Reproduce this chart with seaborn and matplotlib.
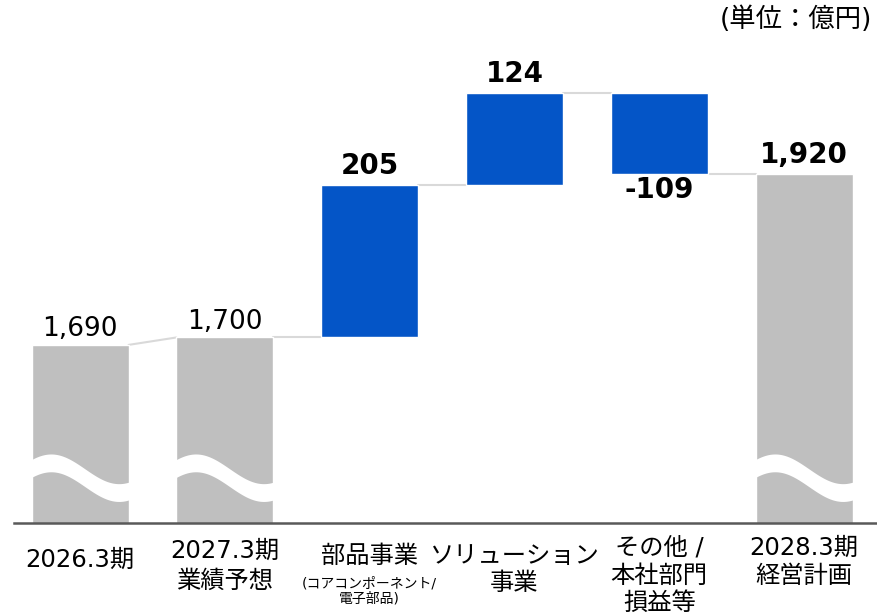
import numpy as np
import pandas as pd
import seaborn as sns
from matplotlib import pyplot as plt

# data (億円)
keys = ['fy2026', 'fy2027', 'parts', 'solution', 'other', 'fy2028']
values = [1690, 1700, 205, 124, -109, 1920]
kinds = ['total', 'total', 'delta', 'delta', 'delta', 'total']
value_labels = ['1,690', '1,700', '205', '124', '-109', '1,920']
cat_lines = [
    ['2026.3期'],
    ['2027.3期', '業績予想'],
    ['部品事業', '(コアコンポーネント/', '電子部品)'],
    ['ソリューション', '事業'],
    ['その他 /', '本社部門', '損益等'],
    ['2028.3期', '経営計画'],
]
unit_text = '(単位：億円)'

# styling / layout
GRAY = '#BFBFBF'
BLUE = '#0455C7'
W = 0.67
YMIN, YMAX = 1450, 2100
# label line offsets below the axis (points) and font sizes
line_offsets = [[26.5], [20, 41.5], [23.5, 43.5, 54.5], [23.5, 43.5], [17.5, 38, 57.5], [18, 38]]
line_sizes = [[17.5], [17.5, 17.5], [17.5, 10, 10], [17.5, 17.5], [17.5, 17.5, 17.5], [17.5, 17.5]]

sns.set_style('white')
plt.rcParams['font.family'] = ['DejaVu Sans', 'Noto Sans CJK JP']
plt.rcParams['text.color'] = 'black'

fig = plt.figure(figsize=(8.77, 6.16), dpi=100)
ax = fig.add_axes([0.016, 0.151, 0.984, 0.783])

# waterfall levels
bottoms, tops = [], []
level = 0
for v, k in zip(values, kinds):
    if k == 'total':
        bottoms.append(YMIN)
        level = v
        tops.append(v)
    else:
        bottoms.append(level)
        level = level + v
        tops.append(level)

df = pd.DataFrame({'key': keys, 'kind': kinds, 'bottom': bottoms, 'top': tops})
tot = df[df['kind'] == 'total']
sns.barplot(data=tot, x='key', y='top', order=keys, color=GRAY,
            width=W, saturation=1, ax=ax, zorder=2)
pos = np.arange(len(keys))
dl = (df['kind'] == 'delta').to_numpy()
ax.bar(pos[dl], (df['top'] - df['bottom'])[dl], bottom=df['bottom'][dl],
       width=W, color=BLUE, zorder=2)

# broken-axis wave on the total bars
u = np.linspace(0, 1, 200)
center = 1511 + 20 * np.cos(2 * np.pi * (u - 0.2) / 1.4)
for i in pos[~dl]:
    xs = i - W / 2 + u * W
    ax.fill_between(xs, center - 12, center + 12, color='white', lw=0, zorder=3)

# connectors
for i in range(len(keys) - 1):
    y0 = df['top'][i]
    y1 = df['bottom'][i + 1] if kinds[i + 1] == 'delta' else df['top'][i + 1]
    ax.plot([i + W / 2, i + 1 - W / 2], [y0, y1], color='#D9D9D9', lw=1.5, zorder=1)

# value labels
for i, (k, v, t) in enumerate(zip(kinds, values, value_labels)):
    bold = k == 'delta' or i == len(keys) - 1
    if k == 'delta' and v < 0:
        ax.annotate(t, (i, df['top'][i]), xytext=(0, -1.5), textcoords='offset points',
                    ha='center', va='top', fontsize=20, fontweight='bold')
    else:
        ax.annotate(t, (i, df['top'][i]), xytext=(0, 4 if bold else 2),
                    textcoords='offset points', ha='center', va='bottom',
                    fontsize=20 if bold else 19, fontweight='bold' if bold else 'normal')

# category labels
for i, lines in enumerate(cat_lines):
    for ln, off, fs in zip(lines, line_offsets[i], line_sizes[i]):
        ax.annotate(ln, (i, 0), xycoords=('data', 'axes fraction'),
                    xytext=(0, -off), textcoords='offset points',
                    ha='center', va='center', fontsize=fs)

fig.text(0.994, 0.968, unit_text, ha='right', va='center', fontsize=19)

ax.set_xlim(-0.456, 5.504)
ax.set_ylim(YMIN, YMAX)
ax.set_xticks([])
ax.set_yticks([])
ax.set_xlabel('')
ax.set_ylabel('')
sns.despine(ax=ax, left=True, top=True, right=True)
ax.spines['bottom'].set_color('#595959')
ax.spines['bottom'].set_linewidth(1.8)
ax.spines['bottom'].set_zorder(4)

fig.savefig('out.png', dpi=100)
